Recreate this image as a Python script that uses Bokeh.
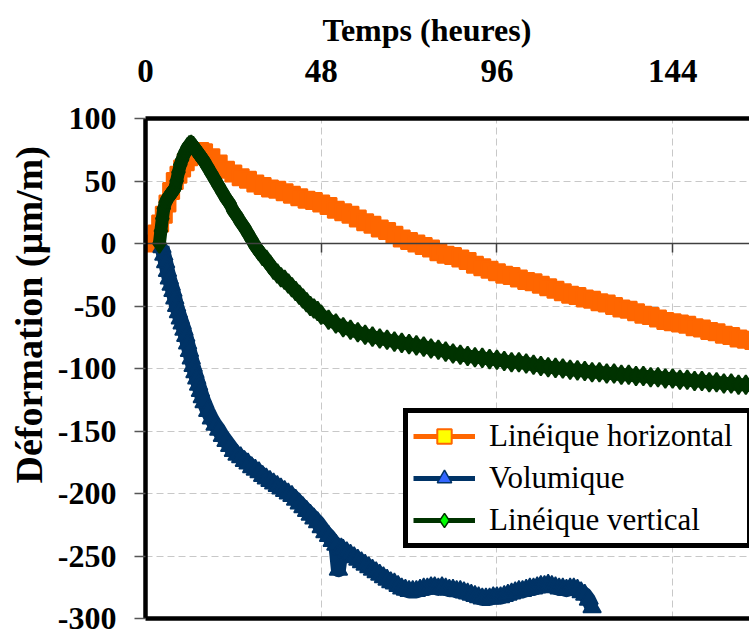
from bokeh.plotting import figure
from bokeh.models import (Range1d, LinearAxis, FixedTicker, Legend, LegendItem, Title,
                          Grid, PrintfTickFormatter)
from bokeh.embed import file_html
from bokeh.resources import INLINE

FONT = "Liberation Serif"

# ---------------- data ----------------
x_ticks = [0, 48, 96, 144]
y_ticks = [-300, -250, -200, -150, -100, -50, 0, 50, 100]

# Linéique horizontal
t_horiz = [2, 3, 4, 5, 6, 7, 8, 9, 10, 11, 12, 13, 14, 15, 16, 18, 20, 22, 24, 26, 28, 30,
           32, 34, 36, 38, 40, 42, 44, 46, 48, 50, 52, 54, 56, 58, 60, 62, 64, 66, 68, 70,
           72, 74, 76, 78, 80, 82, 84, 86, 88, 90, 92, 94, 96, 98, 100, 102, 104, 106, 108,
           110, 112, 114, 116, 118, 120, 122, 124, 126, 128, 130, 132, 134, 136, 138, 140,
           142, 144, 146, 148, 150, 152, 154, 156, 158, 160, 162, 164, 166]
d_horiz = [0, 8, 16, 23, 32, 42, 50, 55, 60, 65, 69, 72, 74, 74, 73, 69, 64, 59, 56, 53, 51, 48,
           46, 44, 43, 41, 39, 37, 35, 34, 32, 30, 27, 25, 23, 20, 17, 15, 12, 10, 7, 4,
           2, 0, -2, -4, -7, -9, -10, -12, -14, -17, -19, -21, -23, -25, -26, -28, -30, -31, -33,
           -35, -37, -39, -41, -42, -44, -45, -47, -48, -50, -52, -53, -55, -57, -58, -60,
           -62, -63, -64, -65, -67, -68, -70, -71, -73, -74, -76, -77, -78]

# Volumique
t_vol = [4.5, 5, 5.5, 6, 6.5, 7, 7.5, 8, 8.5, 9, 9.5, 10, 10.5, 11, 11.5, 12, 12.5, 13, 13.5,
         14, 14.5, 15, 15.5, 16, 17, 18, 19, 20, 21, 22, 23, 24, 25, 26, 27, 28, 29, 30, 31,
         32, 33, 34, 35, 36, 37, 38, 39, 40, 41, 42, 43, 44, 45, 46, 47, 48, 49, 50, 51, 52,
         52.7, 53.5, 54, 55, 56, 57, 58, 59, 60, 61, 62, 63, 64, 65, 66, 67, 68, 69, 70, 71,
         72, 73, 74, 75, 76, 77, 78, 79, 80, 81, 82, 83, 84, 85, 86, 87, 88, 89, 90, 91, 92,
         93, 94, 95, 96, 97, 98, 99, 100, 101, 102, 103, 104, 105, 106, 107, 108, 109, 110,
         111, 112, 113, 114, 115, 116, 117, 118, 119, 120, 121, 122]
d_vol = [-3, -9, -15, -22, -28, -33, -38, -44, -50, -55, -60, -64, -69, -74, -80, -86, -92, -98,
         -103, -108, -113, -118, -123, -127, -134, -140, -145, -149, -154, -158, -162, -166,
         -169, -171, -174, -176, -179, -181, -183, -186, -188, -190, -192, -194, -196, -198,
         -200, -202, -205, -208, -211, -214, -217, -220, -223, -227, -231, -234, -238, -241,
         -261, -244, -245, -247, -249, -251, -253, -255, -257, -259, -261, -263, -265, -267,
         -269, -271, -272, -274, -276, -277, -278, -278, -278, -277, -276, -276, -275, -275,
         -276, -275, -276, -277, -277, -278, -278, -279, -280, -281, -282, -283, -284, -284,
         -284, -283, -283, -283, -282, -281, -280, -279, -278, -278, -277, -276, -276, -275,
         -274, -274, -273, -274, -275, -276, -276, -277, -276, -276, -277, -279, -281, -285, -291]

# Linéique vertical
t_vert = [3.8, 4.2, 4.6, 5, 5.5, 6, 6.5, 7, 7.5, 8, 8.5, 9, 9.5, 10, 10.5, 11, 11.5, 12, 12.5,
          13, 13.5, 14, 14.5, 15, 15.5, 16, 17, 18, 19, 20, 21, 22, 23, 24, 25, 26, 27, 28, 29,
          30, 31, 32, 33, 34, 35, 36, 37, 38, 39, 40, 41, 42, 43, 44, 45, 46, 47, 48, 50, 52,
          54, 56, 58, 60, 62, 64, 66, 68, 70, 72, 74, 76, 78, 80, 82, 84, 86, 88, 90, 92, 94,
          96, 98, 100, 102, 104, 106, 108, 110, 112, 114, 116, 118, 120, 122, 124, 126, 128,
          130, 132, 134, 136, 138, 140, 142, 144, 146, 148, 150, 152, 154, 156, 158, 160, 162,
          164, 166]
d_vert = [0, 10, 20, 28, 33, 36, 38, 40, 42, 44, 50, 57, 63, 67, 71, 74, 77, 78.5, 79,
          78, 76, 74, 72, 70, 68, 66, 61, 56, 51, 46, 41, 36, 32, 26, 22, 17, 13, 8, 3,
          -2, -6, -10, -13, -17, -21, -24, -27, -29, -32, -35, -38, -41, -44, -47, -50, -52,
          -54, -57, -61, -64, -67, -69, -71, -73, -74.5, -76, -77, -78.5, -79.5, -80.5, -81.5,
          -82.5, -84, -85, -86.5, -88, -89, -90, -91, -91.5, -92.5, -93, -94, -95, -95, -96,
          -97, -98, -99, -99.5, -100, -101, -101.5, -102, -103, -103, -104, -104, -105, -105,
          -106, -106, -107, -107, -108, -108, -109, -109, -110, -110, -111, -111, -112, -112,
          -113, -113, -114]

series_labels = ["Linéique horizontal", "Volumique", "Linéique vertical"]

# ---------------- figure ----------------
p = figure(width=749, height=629, output_backend="svg", toolbar_location=None,
           x_range=Range1d(0, 165), y_range=Range1d(-300, 100),
           x_axis_location=None, y_axis_location="left",
           min_border_left=141, min_border_right=0, min_border_top=118, min_border_bottom=11,
           background_fill_color="white", border_fill_color="white")
p.outline_line_color = None
p.xgrid.grid_line_color = None
p.ygrid.grid_line_color = None

# y axis
ya = p.yaxis[0]
ya.ticker = FixedTicker(ticks=y_ticks)
ya.formatter = PrintfTickFormatter(format="%d")
ya.axis_line_color = "black"
ya.axis_line_width = 4.5
ya.major_tick_out = 11
ya.major_tick_in = 0
ya.major_tick_line_color = "#555555"
ya.major_tick_line_width = 1.5
ya.minor_tick_line_color = None
ya.major_label_text_font = FONT
ya.major_label_text_font_style = "bold"
ya.major_label_text_font_size = "32px"
ya.major_label_text_color = "black"
ya.major_label_standoff = 18

# top axis (labels + top border)
xa = LinearAxis(ticker=FixedTicker(ticks=x_ticks), formatter=PrintfTickFormatter(format="%d"),
                axis_line_color="black", axis_line_width=4.5,
                major_tick_out=0, major_tick_in=0, minor_tick_line_color=None,
                major_label_text_font=FONT, major_label_text_font_style="bold",
                major_label_text_font_size="33px", major_label_text_color="black",
                major_label_standoff=37)
p.add_layout(xa, "above")

# zero line axis with ticks pointing down
za = LinearAxis(fixed_location=0, ticker=FixedTicker(ticks=x_ticks[1:]),
                major_label_overrides={48: "", 96: "", 144: ""},
                axis_line_color="#404040", axis_line_width=1.5,
                major_tick_in=9, major_tick_out=0, major_tick_line_color="#404040",
                major_tick_line_width=1.5, minor_tick_line_color=None,
                major_label_text_font_size="1px", major_label_standoff=0)
p.add_layout(za, "above")

# bottom border
ba = LinearAxis(ticker=FixedTicker(ticks=[]), axis_line_color="black", axis_line_width=4.5,
                major_tick_out=0, major_tick_in=0, minor_tick_line_color=None,
                major_label_text_font_size="1px", major_label_standoff=0)
p.add_layout(ba, "below")

# axis titles
p.add_layout(Title(text="Temps (heures)", align="left", offset=177, text_font=FONT,
                   text_font_style="bold", text_font_size="32px", text_color="black",
                   standoff=18), "above")
p.add_layout(Title(text="Déformation (µm/m)", align="left", offset=135, text_font=FONT,
                   text_font_style="bold", text_font_size="38px", text_color="black",
                   standoff=10), "left")

# grids
gx = Grid(dimension=0, ticker=FixedTicker(ticks=x_ticks[1:]), grid_line_color="#c8c8c8",
          grid_line_width=1, grid_line_dash="7 4")
gy = Grid(dimension=1, ticker=FixedTicker(ticks=[-250, -200, -150, -100, -50, 50]),
          grid_line_color="#c8c8c8", grid_line_width=1, grid_line_dash="7 4")
p.add_layout(gx)
p.add_layout(gy)

# ---------------- series ----------------
ORANGE, BLUE_D, BLUE_L, GREEN_D, GREEN_L = "#FF6600", "#003366", "#3366FF", "#003300", "#00FF00"

p.line(t_horiz, d_horiz, line_color=ORANGE, line_width=15, line_join="round")
p.scatter(t_horiz, d_horiz, marker="square", size=16, fill_color=ORANGE, line_color=ORANGE,
          line_width=2)

p.line(t_vol, d_vol, line_color=BLUE_D, line_width=15, line_join="round")
p.scatter(t_vol, d_vol, marker="triangle", size=18, fill_color=BLUE_D, line_color=BLUE_D,
          line_width=1.5)

p.line(t_vert, d_vert, line_color=GREEN_D, line_width=13, line_join="round")
p.scatter(t_vert, d_vert, marker="diamond", size=19, fill_color=GREEN_D, line_color=GREEN_D,
          line_width=2)

# hidden renderers carrying the legend styling of the markers
lh_l = p.line(t_horiz, d_horiz, line_color=ORANGE, line_width=5, visible=False)
lh_m = p.scatter(t_horiz, d_horiz, marker="square", size=13, fill_color="#FFFF00",
                 line_color=ORANGE, line_width=2, visible=False)
lv_l = p.line(t_vol, d_vol, line_color=BLUE_D, line_width=5, visible=False)
lv_m = p.scatter(t_vol, d_vol, marker="triangle", size=16, fill_color=BLUE_L,
                 line_color=BLUE_D, line_width=1.5, visible=False)
lg_l = p.line(t_vert, d_vert, line_color=GREEN_D, line_width=5, visible=False)
lg_m = p.scatter(t_vert, d_vert, marker="diamond", size=19, fill_color=GREEN_L,
                 line_color=GREEN_D, line_width=1.5, visible=False)

legend = Legend(items=[LegendItem(label=series_labels[0], renderers=[lh_l, lh_m]),
                       LegendItem(label=series_labels[1], renderers=[lv_l, lv_m]),
                       LegendItem(label=series_labels[2], renderers=[lg_l, lg_m])],
                location=(258, 70), click_policy="none",
                border_line_color="black", border_line_width=5, border_line_alpha=1.0,
                background_fill_color="white", background_fill_alpha=1.0,
                padding=5, spacing=6, glyph_width=62, glyph_height=36,
                label_height=36, label_width=253, label_standoff=14, margin=0,
                label_text_font=FONT, label_text_font_size="31px", label_text_color="black",
                label_text_baseline="middle")
p.add_layout(legend)

open("out.html", "w").write(file_html(p, INLINE))
